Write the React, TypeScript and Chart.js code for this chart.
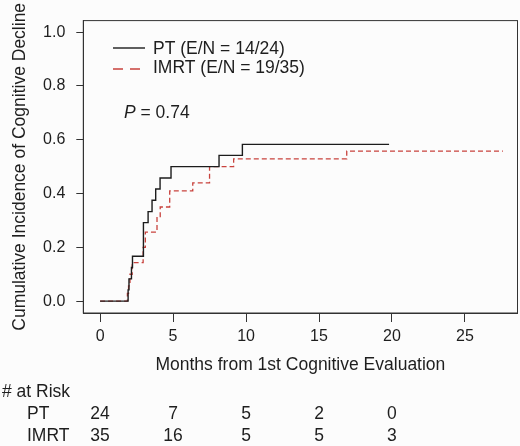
import React, { useEffect, useRef } from "react";
import { Chart, registerables } from "chart.js";

Chart.register(...registerables);

// ---- data ----
const PT_TIMES = [0, 1.92, 1.98, 2.15, 2.22, 2.97, 3.29, 3.56, 3.81, 4.11, 4.86, 8.15, 9.75, 19.8];
const PT_CIF = [0, 0.042, 0.083, 0.125, 0.167, 0.292, 0.333, 0.375, 0.417, 0.458, 0.5, 0.542, 0.583, 0.583];
const IMRT_TIMES = [0, 1.87, 1.95, 2.05, 2.2, 2.95, 3.1, 3.9, 4.12, 4.77, 6.35, 7.5, 9.15, 16.9, 27.6];
const IMRT_CIF = [0, 0.029, 0.057, 0.1, 0.143, 0.2, 0.257, 0.314, 0.35, 0.41, 0.44, 0.5, 0.529, 0.558, 0.558];
const SERIES_LABELS = ["PT (E/N = 14/24)", "IMRT (E/N = 19/35)"];
const GROUP_NAMES = ["PT", "IMRT"];
const X_TICKS = [0, 5, 10, 15, 20, 25];
const Y_TICKS = [0, 0.2, 0.4, 0.6, 0.8, 1.0];
const RISK_TIMES = [0, 5, 10, 15, 20];
const PT_RISK = [24, 7, 5, 2, 0];
const IMRT_RISK = [35, 16, 5, 5, 3];
const P_VALUE = "0.74";
const X_TITLE = "Months from 1st Cognitive Evaluation";
const Y_TITLE = "Cumulative Incidence of Cognitive Decline";

const FONT = "'Liberation Sans', Arial, Helvetica, sans-serif";
const BLACK = "#1c1c1c";
const RED = "#c8423d";
const TEXT = "#1e1e1e";

const overlay = {
  id: "overlay",
  beforeDraw(chart: any) {
    const ctx = chart.ctx;
    ctx.save();
    ctx.fillStyle = "#fcfcfc";
    ctx.fillRect(0, 0, chart.width, chart.height);
    ctx.restore();
  },
  afterDraw(chart: any) {
    const ctx = chart.ctx;
    const a = chart.chartArea;
    const xs = chart.scales.x;
    ctx.save();
    // box
    ctx.strokeStyle = "#333";
    ctx.lineWidth = 1;
    ctx.strokeRect(a.left, a.top, a.right - a.left, a.bottom - a.top);

    // legend
    ctx.font = `17.5px ${FONT}`;
    ctx.textBaseline = "middle";
    ctx.textAlign = "left";
    ctx.fillStyle = TEXT;
    ctx.strokeStyle = BLACK;
    ctx.lineWidth = 1.4;
    ctx.beginPath();
    ctx.moveTo(113, 48);
    ctx.lineTo(145, 48);
    ctx.stroke();
    ctx.fillText(SERIES_LABELS[0], 153, 49);
    ctx.strokeStyle = RED;
    ctx.setLineDash([10, 7]);
    ctx.beginPath();
    ctx.moveTo(113, 69);
    ctx.lineTo(145, 69);
    ctx.stroke();
    ctx.setLineDash([]);
    ctx.fillText(SERIES_LABELS[1], 153, 68.5);

    // p value
    ctx.font = `italic 17.5px ${FONT}`;
    ctx.fillText("P", 124, 113);
    const pw = ctx.measureText("P").width;
    ctx.font = `17.5px ${FONT}`;
    ctx.fillText(" = " + P_VALUE, 124 + pw, 113);

    // at-risk table
    ctx.fillText("# at Risk", 2, 392);
    ctx.fillText(GROUP_NAMES[0], 27, 414);
    ctx.fillText(GROUP_NAMES[1], 27, 436);
    ctx.textAlign = "center";
    RISK_TIMES.forEach((t, i) => {
      const px = xs.getPixelForValue(t);
      ctx.fillText(String(PT_RISK[i]), px, 414);
      ctx.fillText(String(IMRT_RISK[i]), px, 436);
    });
    ctx.restore();
  },
};

export default function App() {
  const ref = useRef<HTMLCanvasElement>(null);
  useEffect(() => {
    if (!ref.current) return;
    const chart = new Chart(ref.current, {
      type: "line",
      data: {
        datasets: [
          {
            label: SERIES_LABELS[0],
            data: PT_TIMES.map((t, i) => ({ x: t, y: PT_CIF[i] })),
            borderColor: BLACK,
            borderWidth: 1.4,
            stepped: "before",
            pointRadius: 0,
            fill: false,
          },
          {
            label: SERIES_LABELS[1],
            data: IMRT_TIMES.map((t, i) => ({ x: t, y: IMRT_CIF[i] })),
            borderColor: RED,
            borderWidth: 1.3,
            borderDash: [5, 3],
            stepped: "before",
            pointRadius: 0,
            fill: false,
          },
        ],
      },
      options: {
        responsive: false,
        animation: false,
        events: [],
        layout: { padding: { left: 0, top: 17, right: 2.5, bottom: 61 } },
        plugins: { legend: { display: false }, tooltip: { enabled: false } },
        scales: {
          x: {
            type: "linear",
            min: -1.15,
            max: 28.6,
            afterBuildTicks: (s: any) => {
              s.ticks = X_TICKS.map((v) => ({ value: v }));
            },
            afterFit: (s: any) => {
              s.height = 72;
            },
            grid: { display: true, drawOnChartArea: false, drawTicks: true, tickLength: 9, color: "#333", lineWidth: 1 },
            border: { display: true, color: "#333" },
            ticks: { font: { size: 16, family: FONT }, color: TEXT, padding: 5, maxRotation: 0, autoSkip: false },
            title: {
              display: true,
              text: X_TITLE,
              font: { size: 17.5, family: FONT },
              color: TEXT,
              padding: { top: 0, bottom: 9.5 },
            },
          },
          y: {
            type: "linear",
            min: -0.044,
            max: 1.043,
            afterBuildTicks: (s: any) => {
              s.ticks = Y_TICKS.map((v) => ({ value: v }));
            },
            afterFit: (s: any) => {
              s.width = 83.3;
            },
            grid: { display: true, drawOnChartArea: false, drawTicks: true, tickLength: 7, color: "#333", lineWidth: 1 },
            border: { display: true, color: "#333" },
            ticks: {
              font: { size: 16, family: FONT },
              color: TEXT,
              padding: 11,
              callback: (v: any) => Number(v).toFixed(1),
            },
            title: {
              display: true,
              text: Y_TITLE,
              font: { size: 17.5, family: FONT },
              color: TEXT,
              padding: { top: 9.5, bottom: 0 },
            },
          },
        },
      },
      plugins: [overlay],
    } as any);
    return () => chart.destroy();
  }, []);
  return (
    <div style={{ position: "absolute", left: 0, top: 0, width: 520, height: 446 }}>
      <canvas ref={ref} width={520} height={446} style={{ display: "block", width: 520, height: 446 }} />
    </div>
  );
}
